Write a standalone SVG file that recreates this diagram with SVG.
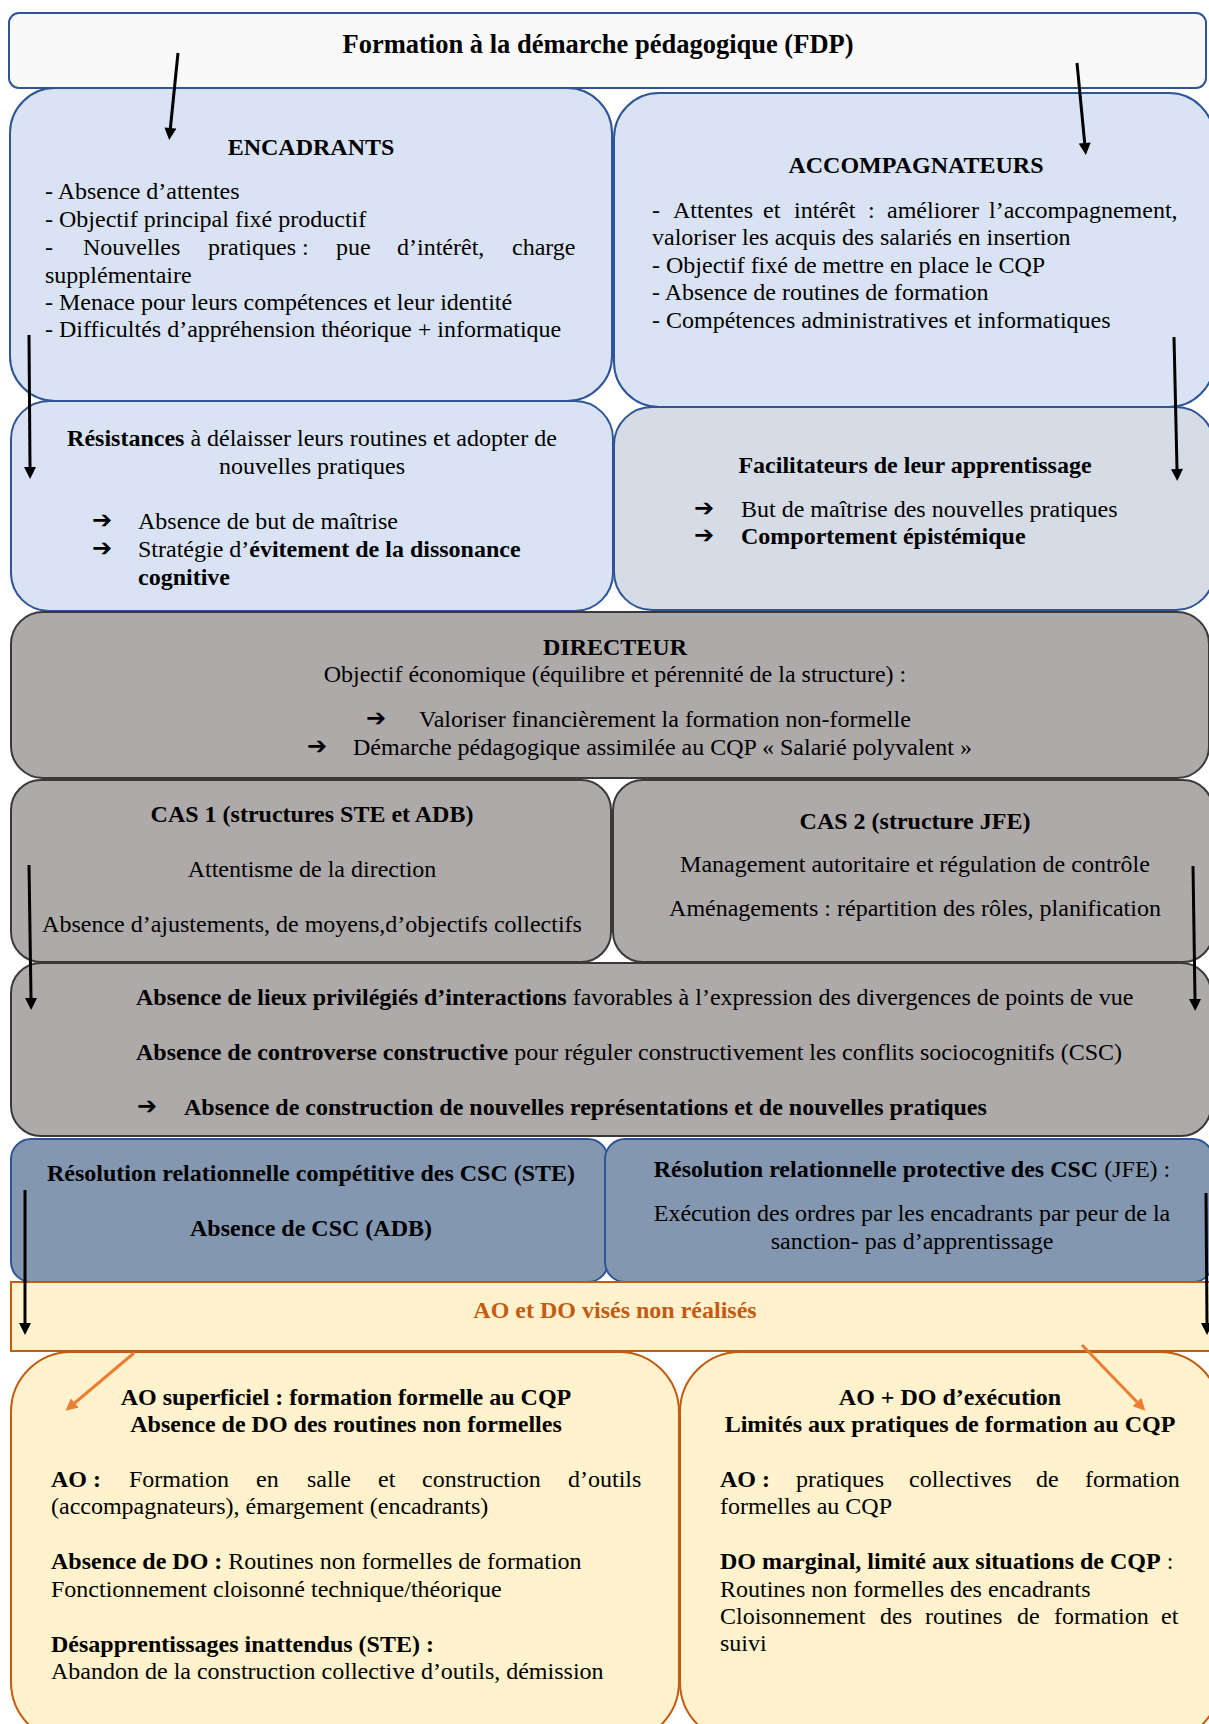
<svg xmlns="http://www.w3.org/2000/svg" width="1209" height="1724" viewBox="0 0 1209 1724" font-family="Liberation Serif, Times New Roman, serif">
<defs>
<style>
.t{font-family:"Liberation Serif","Times New Roman",serif;font-size:24px;fill:#000}
.h{font-size:26.5px}
.b{font-weight:bold}
.c{text-anchor:middle}
.ar{font-family:"DejaVu Sans",sans-serif;font-size:24px;font-weight:bold}
.blue{fill:#dae3f3;stroke:#2f5597;stroke-width:2}
.grey{fill:#aeaaaa;stroke:#3b3838;stroke-width:2}
.res{fill:#8497b0;stroke:#2f5597;stroke-width:2}
.ao{fill:#fff2cc;stroke:#c55a11;stroke-width:2}
.k{stroke:#000;stroke-width:3;fill:none}
.o{stroke:#ed7d31;stroke-width:3;fill:none}
</style>
<marker id="ak" viewBox="0 0 10 10" refX="0" refY="5" markerUnits="userSpaceOnUse" markerWidth="14" markerHeight="12" orient="auto"><path d="M0,0 L10,5 L0,10 z" fill="#000"/></marker>
<marker id="ao" viewBox="0 0 10 10" refX="0" refY="5" markerUnits="userSpaceOnUse" markerWidth="14" markerHeight="12" orient="auto"><path d="M0,0 L10,5 L0,10 z" fill="#ed7d31"/></marker>
</defs>
<rect width="1209" height="1724" fill="#fff"/>

<g id="fdp">
<rect x="9" y="13" width="1197" height="75" rx="10" fill="#f9f9f9" stroke="#2f5597" stroke-width="2"/>
<text class="t h b c" x="598" y="53">Formation à la démarche pédagogique (FDP)</text>
</g>

<g id="encadrants">
<rect class="blue" x="10" y="88" width="602" height="313" rx="45"/>
<text class="t b c" x="311" y="155">ENCADRANTS</text>
<text class="t" x="45" y="199">- Absence d’attentes</text>
<text class="t" x="45" y="227">- Objectif principal fixé productif</text>
<text class="t" y="255"><tspan x="45">-</tspan><tspan x="83">Nouvelles</tspan><tspan x="208">pratiques :</tspan><tspan x="336">pue</tspan><tspan x="397">d’intérêt,</tspan><tspan x="512">charge</tspan></text>
<text class="t" x="45" y="283">supplémentaire</text>
<text class="t" x="45" y="310">- Menace pour leurs compétences et leur identité</text>
<text class="t" x="45" y="337">- Difficultés d’appréhension théorique + informatique</text>
</g>

<g id="accompagnateurs">
<rect class="blue" x="614" y="93" width="600" height="314" rx="45"/>
<text class="t b c" x="916" y="173">ACCOMPAGNATEURS</text>
<text class="t" y="218"><tspan x="652">-</tspan><tspan x="673">Attentes</tspan><tspan x="763">et</tspan><tspan x="794">intérêt</tspan><tspan x="868">:</tspan><tspan x="887">améliorer</tspan><tspan x="989">l’accompagnement,</tspan></text>
<text class="t" x="652" y="245">valoriser les acquis des salariés en insertion</text>
<text class="t" x="652" y="273">- Objectif fixé de mettre en place le CQP</text>
<text class="t" x="652" y="300">- Absence de routines de formation</text>
<text class="t" x="652" y="328">- Compétences administratives et informatiques</text>
</g>

<g id="resistances">
<rect class="blue" x="11" y="401" width="602" height="210" rx="38"/>
<text class="t c" x="312" y="446"><tspan class="b">Résistances</tspan> à délaisser leurs routines et adopter de</text>
<text class="t c" x="312" y="474">nouvelles pratiques</text>
<text class="ar" x="92" y="528">➔</text>
<text class="t" x="138" y="529">Absence de but de maîtrise</text>
<text class="ar" x="92" y="556">➔</text>
<text class="t" x="138" y="557">Stratégie d’<tspan class="b">évitement de la dissonance</tspan></text>
<text class="t b" x="138" y="585">cognitive</text>
</g>

<g id="facilitateurs">
<rect x="614" y="407" width="600" height="203" rx="38" fill="#d6dce5" stroke="#2f5597" stroke-width="2"/>
<text class="t b c" x="915" y="473">Facilitateurs de leur apprentissage</text>
<text class="ar" x="694" y="516">➔</text>
<text class="t" x="741" y="517">But de maîtrise des nouvelles pratiques</text>
<text class="ar" x="694" y="543">➔</text>
<text class="t b" x="741" y="544">Comportement épistémique</text>
</g>

<g id="directeur">
<rect class="grey" x="11" y="612" width="1198" height="166" rx="32"/>
<text class="t b c" x="615" y="655">DIRECTEUR</text>
<text class="t c" x="615" y="682">Objectif économique (équilibre et pérennité de la structure) :</text>
<text class="ar" x="366" y="726">➔</text>
<text class="t" x="419" y="727">Valoriser financièrement la formation non-formelle</text>
<text class="ar" x="307" y="754">➔</text>
<text class="t" x="353" y="755">Démarche pédagogique assimilée au CQP « Salarié polyvalent »</text>
</g>

<g id="cas1">
<rect class="grey" x="11" y="780" width="600" height="182" rx="30"/>
<text class="t b c" x="312" y="822">CAS 1 (structures STE et ADB)</text>
<text class="t c" x="312" y="877">Attentisme de la direction</text>
<text class="t c" x="312" y="932">Absence d’ajustements, de moyens,d’objectifs collectifs</text>
</g>

<g id="cas2">
<rect class="grey" x="613" y="780" width="600" height="182" rx="30"/>
<text class="t b c" x="915" y="829">CAS 2 (structure JFE)</text>
<text class="t c" x="915" y="872">Management autoritaire et régulation de contrôle</text>
<text class="t c" x="915" y="916">Aménagements : répartition des rôles, planification</text>
</g>

<g id="absence">
<rect class="grey" x="11" y="963" width="1200" height="173" rx="30"/>
<text class="t" x="136" y="1005"><tspan class="b">Absence de lieux privilégiés d’interactions</tspan> favorables à l’expression des divergences de points de vue</text>
<text class="t" x="136" y="1060"><tspan class="b">Absence de controverse constructive</tspan> pour réguler constructivement les conflits sociocognitifs (CSC)</text>
<text class="ar" x="137" y="1114">➔</text>
<text class="t b" x="184" y="1115">Absence de construction de nouvelles représentations et de nouvelles pratiques</text>
</g>

<g id="resolution-competitive">
<rect class="res" x="11" y="1139" width="597" height="143" rx="20"/>
<text class="t b c" x="311" y="1181">Résolution relationnelle compétitive des CSC (STE)</text>
<text class="t b c" x="311" y="1236">Absence de CSC (ADB)</text>
</g>

<g id="resolution-protective">
<rect class="res" x="605" y="1139" width="608" height="143" rx="20"/>
<text class="t c" x="912" y="1177"><tspan class="b">Résolution relationnelle protective des CSC</tspan> (JFE) :</text>
<text class="t c" x="912" y="1221">Exécution des ordres par les encadrants par peur de la</text>
<text class="t c" x="912" y="1249">sanction- pas d’apprentissage</text>
</g>

<g id="ao-do">
<rect x="11" y="1282" width="1202" height="69" fill="#fff2cc" stroke="#c55a11" stroke-width="2"/>
<text class="t b c" x="615" y="1318" style="fill:#c55a11">AO et DO visés non réalisés</text>
</g>

<g id="ao-superficiel">
<rect class="ao" x="11" y="1352" width="668" height="390" rx="60"/>
<text class="t b c" x="346" y="1405">AO superficiel : formation formelle au CQP</text>
<text class="t b c" x="346" y="1432">Absence de DO des routines non formelles</text>
<text class="t" y="1487"><tspan x="51" class="b">AO :</tspan><tspan x="129">Formation</tspan><tspan x="256">en</tspan><tspan x="307">salle</tspan><tspan x="378">et</tspan><tspan x="422">construction</tspan><tspan x="568">d’outils</tspan></text>
<text class="t" x="51" y="1514">(accompagnateurs), émargement (encadrants)</text>
<text class="t" x="51" y="1569"><tspan class="b">Absence de DO :</tspan> Routines non formelles de formation</text>
<text class="t" x="51" y="1597">Fonctionnement cloisonné technique/théorique</text>
<text class="t b" x="51" y="1652">Désapprentissages inattendus (STE) :</text>
<text class="t" x="51" y="1679">Abandon de la construction collective d’outils, démission</text>
</g>

<g id="ao-do-execution">
<rect class="ao" x="680" y="1352" width="540" height="390" rx="60"/>
<text class="t b c" x="950" y="1405">AO + DO d’exécution</text>
<text class="t b c" x="950" y="1432">Limités aux pratiques de formation au CQP</text>
<text class="t" y="1487"><tspan x="720" class="b">AO :</tspan><tspan x="796">pratiques</tspan><tspan x="909">collectives</tspan><tspan x="1036">de</tspan><tspan x="1085">formation</tspan></text>
<text class="t" x="720" y="1514">formelles au CQP</text>
<text class="t" x="720" y="1569"><tspan class="b">DO marginal, limité aux situations de CQP</tspan> :</text>
<text class="t" x="720" y="1597">Routines non formelles des encadrants</text>
<text class="t" y="1624"><tspan x="720">Cloisonnement</tspan><tspan x="880">des</tspan><tspan x="925">routines</tspan><tspan x="1017">de</tspan><tspan x="1054">formation</tspan><tspan x="1161">et</tspan></text>
<text class="t" x="720" y="1651">suivi</text>
</g>

<g id="connectors">
<line class="k" x1="178" y1="53" x2="170.4" y2="128" marker-end="url(#ak)"/>
<line class="k" x1="1077" y1="63" x2="1084.7" y2="143" marker-end="url(#ak)"/>
<line class="k" x1="29" y1="335" x2="30" y2="467" marker-end="url(#ak)"/>
<line class="k" x1="1174" y1="337" x2="1177" y2="469" marker-end="url(#ak)"/>
<line class="k" x1="29" y1="865" x2="31" y2="998" marker-end="url(#ak)"/>
<line class="k" x1="1193" y1="866" x2="1195" y2="999" marker-end="url(#ak)"/>
<line class="k" x1="25" y1="1190" x2="25" y2="1323" marker-end="url(#ak)"/>
<line class="k" x1="1206" y1="1193" x2="1207" y2="1323" marker-end="url(#ak)"/>
<line class="o" x1="134" y1="1353" x2="74.7" y2="1403" marker-end="url(#ao)"/>
<line class="o" x1="1082" y1="1345" x2="1137" y2="1402" marker-end="url(#ao)"/>
</g>
</svg>
